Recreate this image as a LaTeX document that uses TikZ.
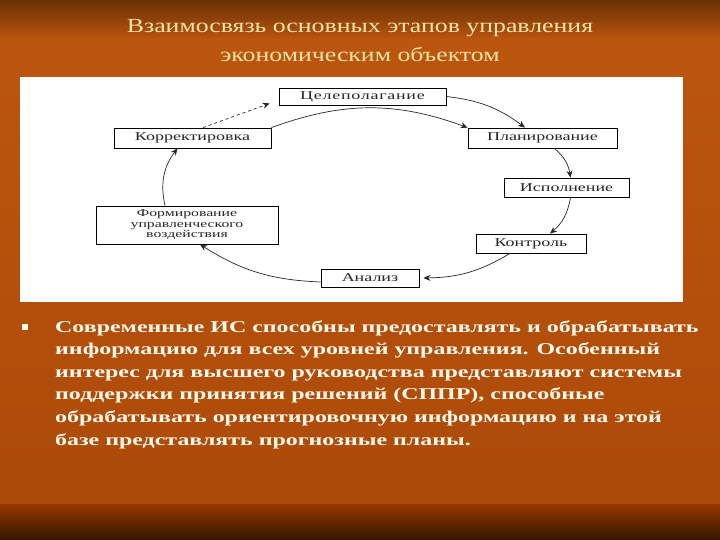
\documentclass[tikz,border=0pt]{standalone}
\usepackage{fontspec}
\setmainfont{Liberation Serif}
\newfontfamily\titlefont[FakeStretch=1.29]{Liberation Serif}
\newfontfamily\boxfont[FakeStretch=1.5]{Liberation Serif}
\newfontfamily\bodyfont[FakeStretch=1.45]{Liberation Serif}
\usetikzlibrary{arrows.meta}

\definecolor{slidetop}{RGB}{105,48,5}
\definecolor{slidemid}{RGB}{188,86,14}
\definecolor{slidelow}{RGB}{172,74,8}
\definecolor{slideband}{RGB}{150,55,0}
\definecolor{slidebottom}{RGB}{50,22,0}
\definecolor{titlecol}{RGB}{250,228,165}
\definecolor{bodycol}{RGB}{255,248,235}

\tikzset{
  stage/.style={draw=black, line width=0.8pt, fill=white, inner sep=0pt,
    font=\boxfont\fontsize{12}{13}\selectfont, text=black!85},
  flow/.style={-{Stealth[length=7pt,width=6pt]}, line width=0.7pt, black!85}
}

\begin{document}
\begin{tikzpicture}[x=1pt,y=1pt]
			%%%%% BACKGROUND %%%%%
			\useasboundingbox (0,0) rectangle (720,540);
			\shade[top color=slidetop, bottom color=slidemid] (0,500) rectangle (720,540);
			\shade[top color=slidemid, bottom color=slidelow] (0,35) rectangle (720,500);
			\shade[top color=slideband, bottom color=slidebottom] (0,0) rectangle (720,35);
			
			%%%%% TITLE %%%%%
			\node[text=titlecol, align=center, font=\titlefont\fontsize{20}{29}\selectfont] (title) at (360,499.5)
			{Взаимосвязь основных этапов управления\\экономическим объектом};
			
			%%%%% DIAGRAM %%%%%
			\fill[white] (20,238) rectangle (683,463);
			
			\node[stage, minimum width=167pt, minimum height=17pt] (tsel) at (362.5,443.5)
			{\addfontfeature{LetterSpace=6}Целеполагание};
			\node[stage, minimum width=157pt, minimum height=20pt] (korr) at (192.5,402) {Корректировка};
			\node[stage, minimum width=149pt, minimum height=20pt] (plan) at (542.5,402) {Планирование};
			\node[stage, minimum width=125pt, minimum height=19pt] (isp) at (566.5,352.5) {Исполнение};
			\node[stage, minimum width=110pt, minimum height=19pt] (kontr) at (531,296.5) {Контроль};
			\node[stage, minimum width=98pt, minimum height=18pt] (anal) at (370,262) {Анализ};
			\node[stage, minimum width=182pt, minimum height=38pt, align=center,
			  font=\boxfont\fontsize{10.5}{10.5}\selectfont] (form) at (187,315)
			{Формирование\\управленческого\\воздействия};
			
			\draw[flow] (tsel.east) to[bend left=15] ([xshift=-17.5pt]plan.north);
			\draw[flow] (korr.north east) to[bend left=20] (plan.north west);
			\draw[flow, dashed] ([xshift=10.5pt]korr.north) -- ([xshift=-9pt,yshift=2pt]tsel.south west);
			\draw[flow] ([xshift=12pt]plan.south) to[bend left=20] ([xshift=4pt]isp.north);
			\draw[flow] ([xshift=4pt]isp.south) to[bend left=20] ([xshift=19pt]kontr.north);
			\draw[flow] ([xshift=-21pt]kontr.south) to[bend left=15] ([xshift=4pt]anal.east);
			\draw[flow] ([yshift=-4pt]anal.west) to[bend left=15] ([xshift=13pt]form.south);
			\draw[flow] ([xshift=-22pt]form.north) to[bend left=25] ([xshift=-15pt]korr.south);
			
			%%%%% TEXT %%%%%
			\fill[bodycol] (22,210) rectangle (28,216);
			\node[anchor=north west, inner sep=0pt, align=left, text=bodycol,
			  font=\bodyfont\bfseries\fontsize{16.5}{22.6}\selectfont] (body) at (55,220)
			{Современные ИС способны предоставлять и обрабатывать\\
			 информацию для всех уровней управления. Особенный\\
			 интерес для высшего руководства представляют системы\\
			 поддержки принятия решений (СППР), способные\\
			 обрабатывать ориентировочную информацию и на этой\\
			 базе представлять прогнозные планы.};
\end{tikzpicture}
\end{document}
